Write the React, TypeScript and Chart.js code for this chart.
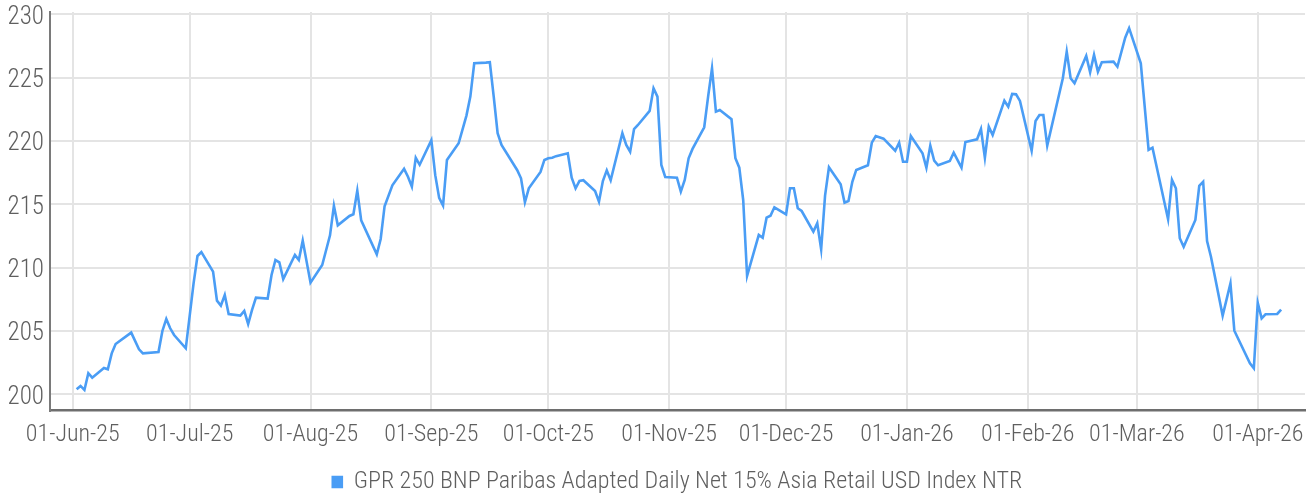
import React, { useEffect, useRef } from "react";
import { Chart, registerables } from "chart.js";

Chart.register(...registerables);

const SERIES_LABEL = "GPR 250 BNP Paribas Adapted Daily Net 15% Asia Retail USD Index NTR";

const dates: string[] = [
  "2025-06-02", "2025-06-03", "2025-06-04", "2025-06-05", "2025-06-06",
  "2025-06-09", "2025-06-10", "2025-06-11", "2025-06-12", "2025-06-16",
  "2025-06-18", "2025-06-19", "2025-06-23", "2025-06-24", "2025-06-25",
  "2025-06-26", "2025-06-27", "2025-06-30", "2025-07-02", "2025-07-03",
  "2025-07-04", "2025-07-07", "2025-07-08", "2025-07-09", "2025-07-10",
  "2025-07-11", "2025-07-14", "2025-07-15", "2025-07-16", "2025-07-17",
  "2025-07-18", "2025-07-21", "2025-07-22", "2025-07-23", "2025-07-24",
  "2025-07-25", "2025-07-28", "2025-07-29", "2025-07-30", "2025-08-01",
  "2025-08-04", "2025-08-06", "2025-08-07", "2025-08-08", "2025-08-11",
  "2025-08-12", "2025-08-13", "2025-08-14", "2025-08-18", "2025-08-19",
  "2025-08-20", "2025-08-22", "2025-08-25", "2025-08-26", "2025-08-27",
  "2025-08-28", "2025-08-29", "2025-09-01", "2025-09-02", "2025-09-03",
  "2025-09-04", "2025-09-05", "2025-09-08", "2025-09-10", "2025-09-11",
  "2025-09-12", "2025-09-15", "2025-09-16", "2025-09-17", "2025-09-18",
  "2025-09-19", "2025-09-23", "2025-09-24", "2025-09-25", "2025-09-26",
  "2025-09-29", "2025-09-30", "2025-10-01", "2025-10-02", "2025-10-03",
  "2025-10-06", "2025-10-07", "2025-10-08", "2025-10-09", "2025-10-10",
  "2025-10-13", "2025-10-14", "2025-10-15", "2025-10-16", "2025-10-17",
  "2025-10-20", "2025-10-21", "2025-10-22", "2025-10-23", "2025-10-24",
  "2025-10-27", "2025-10-28", "2025-10-29", "2025-10-30", "2025-10-31",
  "2025-11-03", "2025-11-04", "2025-11-05", "2025-11-06", "2025-11-07",
  "2025-11-10", "2025-11-11", "2025-11-12", "2025-11-13", "2025-11-14",
  "2025-11-17", "2025-11-18", "2025-11-19", "2025-11-20", "2025-11-21",
  "2025-11-24", "2025-11-25", "2025-11-26", "2025-11-27", "2025-11-28",
  "2025-12-01", "2025-12-02", "2025-12-03", "2025-12-04", "2025-12-05",
  "2025-12-08", "2025-12-09", "2025-12-10", "2025-12-11", "2025-12-12",
  "2025-12-15", "2025-12-16", "2025-12-17", "2025-12-18", "2025-12-19",
  "2025-12-22", "2025-12-23", "2025-12-24", "2025-12-26", "2025-12-29",
  "2025-12-30", "2025-12-31", "2026-01-01", "2026-01-02", "2026-01-05",
  "2026-01-06", "2026-01-07", "2026-01-08", "2026-01-09", "2026-01-12",
  "2026-01-13", "2026-01-15", "2026-01-16", "2026-01-19", "2026-01-20",
  "2026-01-21", "2026-01-22", "2026-01-23", "2026-01-26", "2026-01-27",
  "2026-01-28", "2026-01-29", "2026-01-30", "2026-02-02", "2026-02-03",
  "2026-02-04", "2026-02-05", "2026-02-06", "2026-02-10", "2026-02-11",
  "2026-02-12", "2026-02-13", "2026-02-16", "2026-02-17", "2026-02-18",
  "2026-02-19", "2026-02-20", "2026-02-23", "2026-02-24", "2026-02-26",
  "2026-02-27", "2026-03-02", "2026-03-04", "2026-03-05", "2026-03-09",
  "2026-03-10", "2026-03-11", "2026-03-12", "2026-03-13", "2026-03-16",
  "2026-03-17", "2026-03-18", "2026-03-19", "2026-03-20", "2026-03-23",
  "2026-03-25", "2026-03-26", "2026-03-30", "2026-03-31", "2026-04-01",
  "2026-04-02", "2026-04-03", "2026-04-06", "2026-04-07",
];

const values: number[] = [
  200.39, 200.66, 200.34, 201.66, 201.31,
  202.08, 201.97, 203.23, 203.97, 204.87,
  203.55, 203.23, 203.33, 205.0, 205.95,
  205.21, 204.68, 203.63, 208.76, 210.92,
  211.23, 209.68, 207.39, 207.0, 207.84,
  206.34, 206.21, 206.58, 205.55, 206.66,
  207.63, 207.55, 209.42, 210.6, 210.42,
  209.1, 211.0, 210.6, 212.13, 208.81,
  210.21, 212.55, 214.89, 213.34, 214.08,
  214.21, 216.08, 213.73, 211.05, 212.26,
  214.85, 216.5, 217.8, 217.18, 216.39,
  218.67, 218.12, 220.06, 217.3, 215.5,
  214.89, 218.5, 219.82, 222.0, 223.5,
  226.13, 226.18, 226.21, 223.5, 220.61,
  219.68, 217.71, 217.05, 215.16, 216.26,
  217.55, 218.5, 218.63, 218.68, 218.8,
  219.03, 217.1, 216.26, 216.84, 216.9,
  216.05, 215.21, 216.84, 217.68, 216.9,
  220.61, 219.68, 219.15, 220.94, 221.26,
  222.37, 224.16, 223.5, 218.1, 217.16,
  217.1, 216.0, 216.92, 218.63, 219.37,
  221.08, 223.5, 225.74, 222.31, 222.44,
  221.71, 218.63, 217.89, 215.34, 209.34,
  212.58, 212.36, 213.94, 214.1, 214.76,
  214.21, 216.26, 216.26, 214.68, 214.47,
  212.84, 213.5, 211.45, 215.68, 217.92,
  216.58, 215.13, 215.26, 216.78, 217.71,
  218.08, 219.86, 220.39, 220.18, 219.23,
  219.86, 218.36, 218.36, 220.39, 219.03,
  217.89, 219.63, 218.44, 218.08, 218.42,
  219.07, 217.89, 219.92, 220.13, 220.94,
  218.68, 221.13, 220.47, 223.18, 222.71,
  223.71, 223.68, 223.16, 219.23, 221.58,
  222.05, 222.05, 219.63, 224.95, 227.05,
  224.95, 224.55, 226.71, 225.42, 226.79,
  225.47, 226.21, 226.26, 225.86, 228.15,
  228.9, 226.13, 219.29, 219.47, 213.82,
  216.92, 216.26, 212.32, 211.65, 213.76,
  216.45, 216.78, 212.1, 210.86, 206.21,
  208.76, 205.02, 202.45, 202.05, 207.23,
  206.0, 206.32, 206.34, 206.69,
];

const monthTicks: string[] = [
  "2025-06-01", "2025-07-01", "2025-08-01", "2025-09-01", "2025-10-01",
  "2025-11-01", "2025-12-01", "2026-01-01", "2026-02-01", "2026-03-01",
  "2026-04-01",
];

const yTicks: number[] = [200, 205, 210, 215, 220, 225, 230];

const MONTH_NAMES = ["Jan", "Feb", "Mar", "Apr", "May", "Jun", "Jul", "Aug", "Sep", "Oct", "Nov", "Dec"];

const X_MIN = Date.parse("2025-05-26T04:00:00Z");
const X_MAX = Date.parse("2026-04-13T03:00:00Z");
const Y_MIN = 198.72;
const Y_MAX = 230.18;

const FONT_FAMILY = "'Roboto Condensed', 'Liberation Sans Narrow', 'Arial Narrow', 'DejaVu Sans Condensed', sans-serif";
const TEXT_COLOR = "#5f5f5f";
const LINE_COLOR = "#4a9df5";
const GRID_COLOR = "#e4e4e4";

function formatDate(ms: number): string {
  const d = new Date(ms);
  const dd = String(d.getUTCDate()).padStart(2, "0");
  const mm = MONTH_NAMES[d.getUTCMonth()];
  const yy = String(d.getUTCFullYear() % 100).padStart(2, "0");
  return `${dd}-${mm}-${yy}`;
}

export default function App() {
  const canvasRef = useRef<HTMLCanvasElement | null>(null);

  useEffect(() => {
    const canvas = canvasRef.current;
    if (!canvas) return;
    const points = dates.map((d, i) => ({ x: Date.parse(d), y: values[i] }));
    const chart = new Chart(canvas, {
      type: "line",
      data: {
        datasets: [
          {
            label: SERIES_LABEL,
            data: points,
            borderColor: LINE_COLOR,
            backgroundColor: LINE_COLOR,
            borderWidth: 2.6,
            pointRadius: 0,
            pointHoverRadius: 0,
            tension: 0,
            fill: false,
          },
        ],
      },
      options: {
        animation: false,
        responsive: true,
        maintainAspectRatio: false,
        events: [],
        layout: { padding: { top: 12, right: 9, bottom: 0, left: 0 } },
        plugins: {
          tooltip: { enabled: false },
          legend: {
            display: true,
            position: "bottom",
            fullSize: false,
            labels: {
              boxWidth: 9,
              boxHeight: 10,
              padding: 10,
              color: TEXT_COLOR,
              font: { family: FONT_FAMILY, size: 24, weight: "300" },
            },
          },
        },
        scales: {
          x: {
            type: "linear",
            min: X_MIN,
            max: X_MAX,
            afterBuildTicks: (scale: any) => {
              scale.ticks = monthTicks.map((t) => ({ value: Date.parse(t) }));
            },
            afterFit: (scale: any) => {
              scale.height = 49.5;
              scale.paddingLeft = 0;
              scale.paddingRight = 0;
            },
            ticks: {
              autoSkip: false,
              maxRotation: 0,
              minRotation: 0,
              padding: 10,
              color: TEXT_COLOR,
              font: { family: FONT_FAMILY, size: 24, weight: "300" },
              callback: (v: any) => formatDate(Number(v)),
            },
            grid: {
              color: GRID_COLOR,
              lineWidth: 2,
              drawTicks: false,
            },
            border: { display: true, color: "#6e6e6e", width: 2.5 },
          },
          y: {
            type: "linear",
            min: Y_MIN,
            max: Y_MAX,
            afterBuildTicks: (scale: any) => {
              scale.ticks = yTicks.map((v) => ({ value: v }));
            },
            afterFit: (scale: any) => {
              scale.width = 50;
              scale.paddingTop = 0;
              scale.paddingBottom = 0;
            },
            ticks: {
              padding: 6,
              labelOffset: 3,
              color: TEXT_COLOR,
              font: { family: FONT_FAMILY, size: 25, weight: "300" },
              callback: (v: any) => String(v),
            },
            grid: {
              color: GRID_COLOR,
              lineWidth: 2,
              drawTicks: false,
            },
            border: { display: true, color: "#7a7a7a", width: 2 },
          },
        },
      },
    });
    return () => chart.destroy();
  }, []);

  return (
    <div style={{ position: "absolute", left: 0, top: 0, width: 1314, height: 495, overflow: "hidden", background: "#fff" }}>
      <div style={{ position: "relative", width: 1314, height: 504 }}>
        <canvas ref={canvasRef} />
      </div>
    </div>
  );
}
